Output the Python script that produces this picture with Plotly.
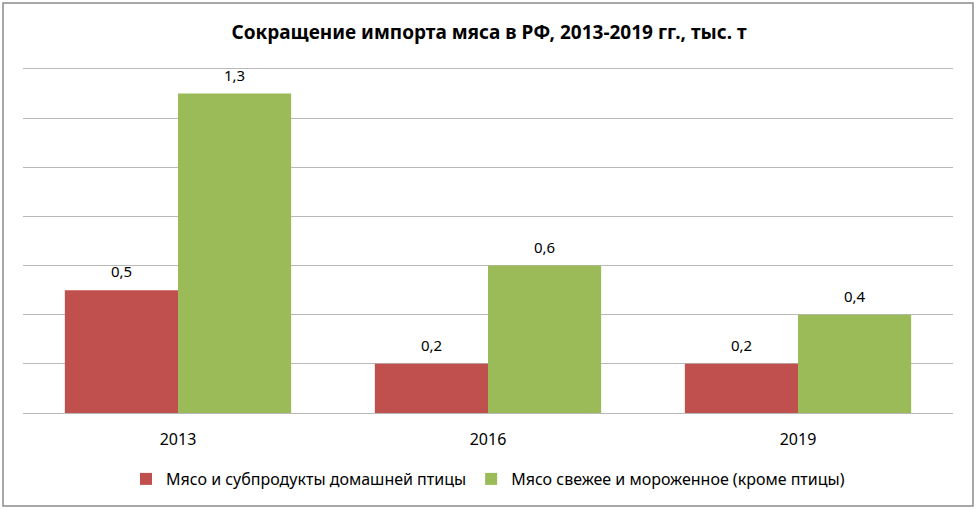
import plotly.graph_objects as go

years = ["2013", "2016", "2019"]
poultry = [0.5, 0.2, 0.2]
meat = [1.3, 0.6, 0.4]
series_names = ["Мясо и субпродукты домашней птицы", "Мясо свежее и мороженное (кроме птицы)"]
title = "Сокращение импорта мяса в РФ, 2013-2019 гг., тыс. т"

FONT = "Noto Sans"
W, H = 978, 510
L, R, T, B = 23, 25, 69, 97
pw, ph = W - L - R, H - T - B
bargap = 0.27
bar_px = pw / len(years) * (1 - bargap) / 2

fig = go.Figure()
annotations = []
for i, (vals, name, col) in enumerate([(poultry, series_names[0], "#C0504D"), (meat, series_names[1], "#9BBB59")]):
    fig.add_trace(go.Bar(
        x=years, y=vals, name=name, marker=dict(color=col, line=dict(width=0)),
    ))
    for j, v in enumerate(vals):
        annotations.append(dict(
            x=j, y=v, xref="x", yref="y", text=f"{v:.1f}".replace(".", ","),
            showarrow=False, yanchor="bottom", yshift=7,
            xshift=(i - 0.5) * bar_px,
            font=dict(size=15, color="#000000", family=FONT),
        ))

fig.update_layout(
    width=W, height=H, autosize=False,
    margin=dict(l=L, r=R, t=T, b=B),
    paper_bgcolor="white", plot_bgcolor="white",
    barmode="group", bargap=bargap, bargroupgap=0,
    font=dict(family=FONT, color="#000000"),
    title=dict(text=title, x=0.5, xanchor="center", y=1 - 32 / H, yanchor="middle",
               font=dict(size=19, family=FONT, color="#000000", weight="bold")),
    xaxis=dict(type="category", range=[-0.5, len(years) - 0.5], showgrid=False, showline=True, mirror=True,
               linecolor="#B8B8B8", linewidth=1, ticks="", ticklabelstandoff=12,
               tickfont=dict(size=16, family=FONT, color="#000000")),
    yaxis=dict(range=[0, 1.4], dtick=0.2, showticklabels=False, showgrid=True, gridcolor="#B8B8B8",
               gridwidth=1, zeroline=True, zerolinecolor="#B8B8B8", zerolinewidth=1, showline=False),
    legend=dict(orientation="h", x=0.5, xanchor="center", y=(413 - 479) / ph, yanchor="middle",
                font=dict(size=16, family=FONT, color="#000000"), itemwidth=30, traceorder="normal",
                bgcolor="rgba(0,0,0,0)"),
    showlegend=True,
    annotations=annotations,
    shapes=[dict(type="rect", xref="paper", yref="paper",
                 x0=(3 - L) / pw, x1=(973 - L) / pw, y0=(413 - 506) / ph, y1=(413 - 3) / ph,
                 line=dict(color="#8C8C8C", width=1.5), fillcolor="rgba(0,0,0,0)", layer="below")],
)

fig.write_html("out.html")
